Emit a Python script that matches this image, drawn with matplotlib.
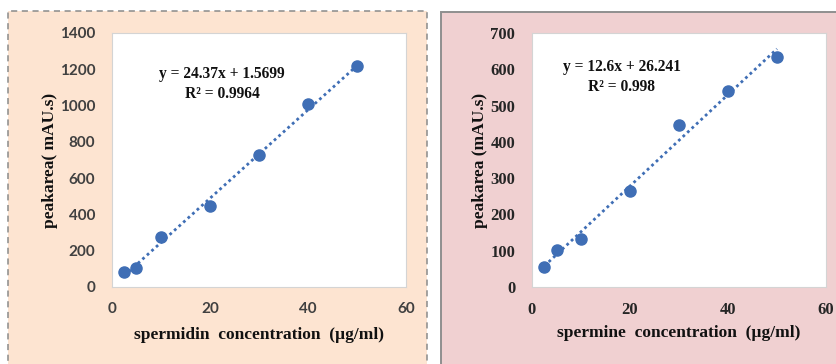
import matplotlib
matplotlib.use("Agg")
import matplotlib.pyplot as plt
from matplotlib.patches import Rectangle
import numpy as np

# ---- data ----
conc = [2.5, 5, 10, 20, 30, 40, 50]
spermidin_area = [81, 103, 277, 448, 728, 1010, 1216]
spermine_area = [56, 102, 132, 265, 447, 540, 633]

spermidin_fit = (24.37, 1.5699)
spermine_fit = (12.6, 26.241)

left_eq = ["y = 24.37x + 1.5699", "R² = 0.9964"]
right_eq = ["y = 12.6x + 26.241", "R² = 0.998"]

x_ticks = [0, 20, 40, 60]
left_yticks = [0, 200, 400, 600, 800, 1000, 1200, 1400]
right_yticks = [0, 100, 200, 300, 400, 500, 600, 700]

left_xlabel = "spermidin  concentration  (µg/ml)"
right_xlabel = "spermine  concentration  (µg/ml)"
left_ylabel = "peakarea( mAU.s)"
right_ylabel = "peakarea (mAU.s)"

# ---- figure ----
W, H = 837, 364
fig = plt.figure(figsize=(W / 100, H / 100), dpi=100)
fig.patch.set_facecolor("white")

def fx(px):
    return px / W

def fy(py):
    return 1 - py / H

# panel backgrounds
fig.patches.append(Rectangle((fx(8), fy(380)), fx(427) - fx(8), fy(11) - fy(380),
                             transform=fig.transFigure, facecolor="#FDE4D1",
                             edgecolor="#8a8a8a", linestyle=(0, (4, 3)), linewidth=1.1,
                             zorder=-5))
fig.patches.append(Rectangle((fx(441.5), fy(380)), fx(860) - fx(441.5), fy(12) - fy(380),
                             transform=fig.transFigure, facecolor="#F0D0D1",
                             edgecolor="#8f8f8f", linewidth=1.4, zorder=-5))

blue = "#3F6EB5"

def make_panel(left_px, xs, ys, fit, eq, eq_xy, yticks, ymax, xlabel, ylabel,
               tick_font, tick_color, tick_size, tick_weight, xlabel_y, ylabel_x):
    ax = fig.add_axes([fx(left_px), fy(287), fx(294), (287 - 33) / H])
    ax.set_zorder(1)
    ax.set_facecolor("white")
    for s in ax.spines.values():
        s.set_color("#d4d4d4")
        s.set_linewidth(0.8)
    ax.set_xlim(0, 60)
    ax.set_ylim(0, ymax)
    ax.set_xticks(x_ticks)
    ax.set_yticks(yticks)
    ax.tick_params(axis="y", length=0, pad=12)
    ax.tick_params(axis="x", length=0, pad=11)
    for lab in ax.get_xticklabels() + ax.get_yticklabels():
        lab.set_family(tick_font)
        lab.set_color(tick_color)
        lab.set_fontsize(tick_size)
        lab.set_fontweight(tick_weight)
    xl = np.array([xs[0], xs[-1]])
    ax.plot(xl, fit[0] * xl + fit[1], linestyle=(0, (1, 1.2)), color=blue,
            linewidth=2.0, zorder=2)
    ax.plot(xs, ys, "o", color=blue, markersize=8, zorder=3, clip_on=False)
    ax.text(eq_xy[0], eq_xy[1], eq[0] + "\n" + eq[1], transform=fig.transFigure,
            ha="center", va="center", family="Liberation Serif", fontweight="bold",
            fontsize=11.2, linespacing=1.3, color="#111111")
    fig.text(fx(left_px + 147), fy(xlabel_y), xlabel, ha="center", va="center",
             family="Liberation Serif", fontweight="bold", fontsize=12.5, color="#111111")
    fig.text(fx(ylabel_x), fy(160), ylabel, ha="center", va="center", rotation=90,
             family="Liberation Serif", fontweight="bold", fontsize=12.5, color="#111111")
    return ax

make_panel(112, conc, spermidin_area, spermidin_fit, left_eq, (fx(222), fy(84)),
           left_yticks, 1400, left_xlabel, left_ylabel,
           "Lato", "#404040", 11, "bold", 335, 50)
make_panel(532, conc, spermine_area, spermine_fit, right_eq, (fx(622), fy(77)),
           right_yticks, 700, right_xlabel, right_ylabel,
           "Liberation Serif", "#262626", 12, "bold", 333, 480)

fig.savefig("out.png", dpi=100)
